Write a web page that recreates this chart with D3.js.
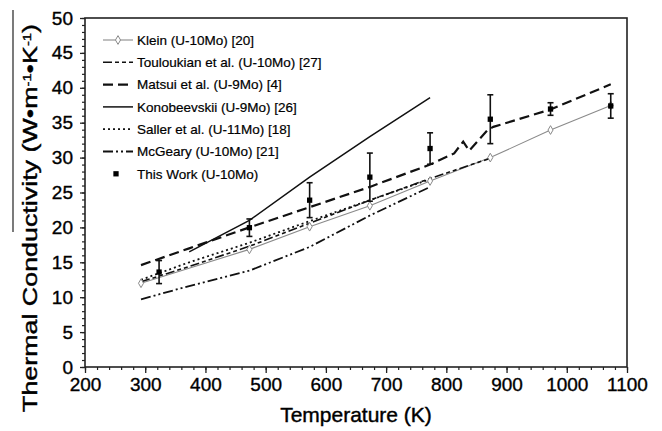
<!DOCTYPE html>
<html><head><meta charset="utf-8">
<script src="https://cdn.jsdelivr.net/npm/d3@7"></script>
<style>
html,body{margin:0;padding:0;background:#fff;}
svg{display:block;font-family:"Liberation Sans",Arial,sans-serif;}
</style></head><body>
<svg id="chart" width="662" height="431"></svg>
<script>
// Thermal conductivity of U-Mo alloys: literature curves [temperature K, W/m/K]
const klein        = [[293,12.0],[473,16.85],[573,20.1],[673,23.1],[773,26.65],[873,30.0],[973,33.95],[1073,37.45]];
const touloukian   = [[293,12.2],[373,14.4],[473,17.3],[573,20.6],[673,23.9],[773,27.0],[873,29.9]];
const matsui       = [[293,14.6],[373,17.0],[473,20.0],[573,22.9],[673,25.8],[773,29.0],[813,30.6],[828,32.3],[838,31.0],[868,33.9],[878,34.4],[973,36.9],[1073,40.5]];
const konobeevskii = [[373,16.5],[473,21.0],[573,27.2],[673,33.0],[773,38.6]];
const saller       = [[293,12.5],[373,15.0],[473,17.8],[573,20.9],[673,23.9],[773,26.9]];
const mcgeary      = [[293,9.7],[373,11.6],[473,13.8],[573,17.2],[673,21.7],[773,25.8]];

// Measured values with uncertainty
const workT   = [323,473,573,673,773,873,973,1073];
const workK   = [13.6,19.96,23.9,27.2,31.3,35.5,36.96,37.4];
const workErr = [1.65,1.25,2.5,3.45,2.25,3.5,0.9,1.75];

const xTicks = [200,300,400,500,600,700,800,900,1000,1100];
const yTicks = [0,5,10,15,20,25,30,35,40,45,50];

const legendNames = [
  "Klein (U-10Mo) [20]",
  "Touloukian et al. (U-10Mo) [27]",
  "Matsui et al. (U-9Mo) [4]",
  "Konobeevskii (U-9Mo) [26]",
  "Saller et al. (U-11Mo) [18]",
  "McGeary (U-10Mo) [21]",
  "This Work (U-10Mo)"
];

const svg = d3.select("#chart");
const L = 85, R = 627, T = 18, B = 367;
const x = d3.scaleLinear().domain([200,1100]).range([L,R]);
const y = d3.scaleLinear().domain([0,50]).range([B,T]);

// styles per curve
const curves = [
  {data: klein,        stroke:"#8a8a8a", width:1.1, dash:null},
  {data: touloukian,   stroke:"#111", width:1.6, dash:"9,3,4,3,4,3"},
  {data: matsui,       stroke:"#111", width:2.2, dash:"10,5"},
  {data: konobeevskii, stroke:"#111", width:1.5, dash:null},
  {data: saller,       stroke:"#111", width:1.8, dash:"2,3"},
  {data: mcgeary,      stroke:"#111", width:1.8, dash:"10,3,2,3,2,3"}
];

// minor ticks
const xMinor = d3.range(200,1101,20);
const yMinor = d3.range(0,51,1);
svg.append("g").attr("transform",`translate(0,${B})`)
  .call(d3.axisBottom(x).tickValues(xMinor).tickSize(3).tickFormat(""))
  .call(g=>g.select(".domain").remove())
  .selectAll("line").attr("stroke","#222").attr("stroke-width",1.2);
svg.append("g").attr("transform",`translate(${L},0)`)
  .call(d3.axisLeft(y).tickValues(yMinor).tickSize(3).tickFormat(""))
  .call(g=>g.select(".domain").remove())
  .selectAll("line").attr("stroke","#222").attr("stroke-width",1.2);

// major axes
const xAxis = svg.append("g").attr("transform",`translate(0,${B})`)
  .call(d3.axisBottom(x).tickValues(xTicks).tickSize(6).tickPadding(5).tickFormat(d3.format("d")));
const yAxis = svg.append("g").attr("transform",`translate(${L},0)`)
  .call(d3.axisLeft(y).tickValues(yTicks).tickSize(5).tickPadding(7).tickFormat(d3.format("d")));
[xAxis,yAxis].forEach(g=>{
  g.select(".domain").remove();
  g.selectAll("line").attr("stroke","#222").attr("stroke-width",1.3);
  g.selectAll("text").attr("fill","#000").attr("stroke","#000").attr("stroke-width",0.35)
   .style("font-size","19px").style("font-family","'Liberation Sans',Arial,sans-serif");
});

// plot frame
svg.append("rect").attr("x",L).attr("y",T).attr("width",R-L).attr("height",B-T)
  .attr("fill","none").attr("stroke","#222").attr("stroke-width",1.6);

const line = d3.line().x(d=>x(d[0])).y(d=>y(d[1]));
curves.forEach(c=>{
  svg.append("path").datum(c.data).attr("d",line)
    .attr("fill","none").attr("stroke",c.stroke).attr("stroke-width",c.width)
    .attr("stroke-dasharray",c.dash);
});

// Klein markers
const diamond = d3.symbol(d3.symbolDiamond, 22);
svg.append("g").selectAll("path").data(klein).join("path")
  .attr("d",diamond).attr("transform",d=>`translate(${x(d[0])},${y(d[1])})`)
  .attr("fill","#fff").attr("stroke","#8a8a8a").attr("stroke-width",1);

// measured points with error bars
const work = workT.map((t,i)=>({t, k:workK[i], e:workErr[i]}));
const eg = svg.append("g").attr("stroke","#111").attr("stroke-width",1.6);
eg.selectAll("line.v").data(work).join("line").attr("class","v")
  .attr("x1",d=>x(d.t)).attr("x2",d=>x(d.t)).attr("y1",d=>y(d.k+d.e)).attr("y2",d=>y(d.k-d.e));
eg.selectAll("line.t").data(work).join("line").attr("class","t")
  .attr("x1",d=>x(d.t)-3).attr("x2",d=>x(d.t)+3).attr("y1",d=>y(d.k+d.e)).attr("y2",d=>y(d.k+d.e));
eg.selectAll("line.b").data(work).join("line").attr("class","b")
  .attr("x1",d=>x(d.t)-3).attr("x2",d=>x(d.t)+3).attr("y1",d=>y(d.k-d.e)).attr("y2",d=>y(d.k-d.e));
const square = d3.symbol(d3.symbolSquare, 28);
svg.append("g").selectAll("path").data(work).join("path")
  .attr("d",square).attr("transform",d=>`translate(${x(d.t)},${y(d.k)})`).attr("fill","#000");

// legend
const lg = svg.append("g");
const rowY = i => 40 + i*22.3;
legendNames.forEach((name,i)=>{
  const ly = rowY(i);
  if (i < curves.length) {
    const c = curves[i];
    lg.append("line").attr("x1",103).attr("x2",133).attr("y1",ly).attr("y2",ly)
      .attr("stroke",c.stroke).attr("stroke-width",c.width).attr("stroke-dasharray",c.dash);
    if (i === 0) lg.append("path").attr("d",diamond).attr("transform",`translate(118,${ly})`)
      .attr("fill","#fff").attr("stroke","#8a8a8a");
  } else {
    lg.append("path").attr("d",square).attr("transform",`translate(116,${ly})`).attr("fill","#000");
  }
  lg.append("text").attr("x",137).attr("y",ly).attr("dy","0.35em")
    .style("font-size","13.5px").attr("fill","#000").attr("stroke","#000").attr("stroke-width",0.2)
    .text(name);
});

// axis titles
svg.append("text").attr("x",(L+R)/2).attr("y",422).attr("text-anchor","middle")
  .style("font-size","21px").attr("fill","#000").attr("stroke","#000").attr("stroke-width",0.4)
  .text("Temperature (K)");

const yt = svg.append("text").attr("transform","translate(37,218) rotate(-90)")
  .attr("text-anchor","middle").style("font-size","20px")
  .attr("fill","#000").attr("stroke","#000").attr("stroke-width",0.4)
  .attr("textLength",388).attr("lengthAdjust","spacingAndGlyphs");
yt.append("tspan").text("Thermal Conductivity (W\u2022m");
yt.append("tspan").attr("baseline-shift","super").style("font-size","11px").text("-1");
yt.append("tspan").text("\u2022K");
yt.append("tspan").attr("baseline-shift","super").style("font-size","11px").text("-1");
yt.append("tspan").text(")");
svg.append("line").attr("x1",13).attr("x2",13).attr("y1",10).attr("y2",232)
  .attr("stroke","#222").attr("stroke-width",1.2);
</script>
</body></html>
